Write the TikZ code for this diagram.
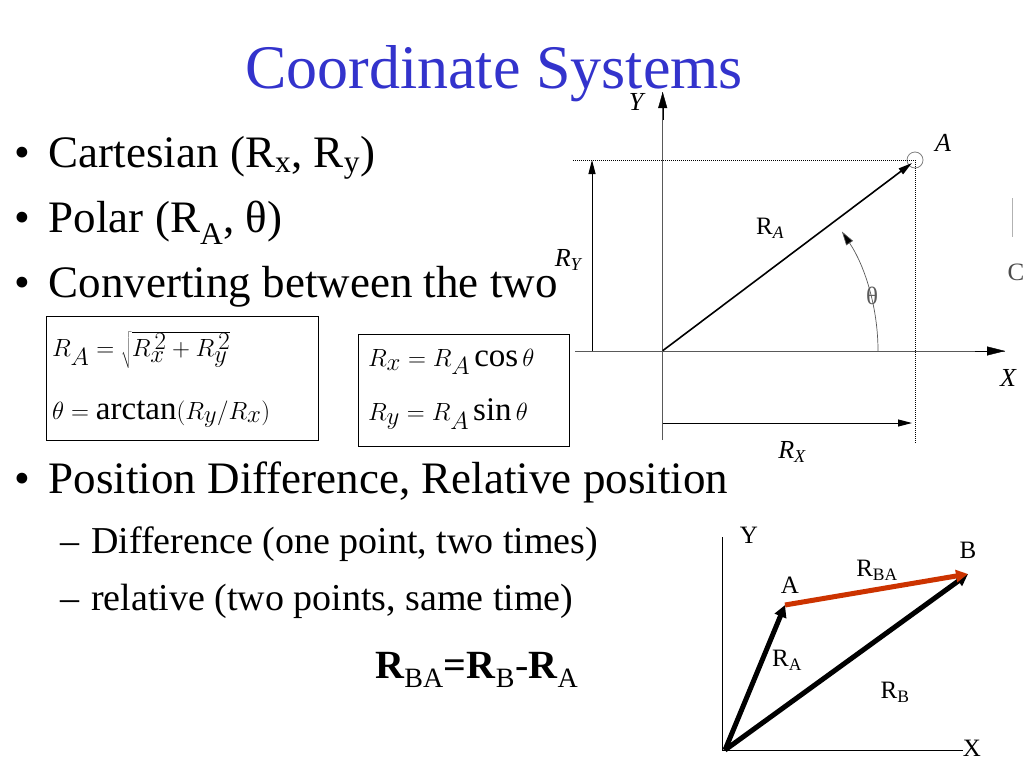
\documentclass[tikz,border=0pt]{standalone}
\usepackage{fontspec}
\setmainfont{Liberation Serif}
\usetikzlibrary{arrows.meta}
\definecolor{titleblue}{RGB}{51,51,204}
\definecolor{redarrow}{RGB}{204,51,0}
\begin{document}
\begin{tikzpicture}[x=1pt,y=-1pt,
  txt/.style={anchor=base west,inner sep=0pt,font=\fontsize{45}{48}\selectfont},
  sub/.style={anchor=base west,inner sep=0pt,font=\fontsize{38}{42}\selectfont},
  lbl/.style={inner sep=0pt,font=\fontsize{26}{28}\selectfont\itshape},
  lbl2/.style={inner sep=0pt,font=\fontsize{25}{27}\selectfont},
  fml/.style={anchor=west,inner sep=0pt,font=\fontsize{33}{35}\selectfont},
  axis/.style={gray!70!black,line width=0.8pt},
  thin/.style={line width=1pt,-{Triangle[length=14pt,width=7pt]}},
  fat/.style={line width=5pt,-{Triangle[length=12pt,width=12pt]}},
  dot/.style={densely dotted,line width=1pt}]
\useasboundingbox (0,0) rectangle (1024,768);
\node[anchor=base,inner sep=0pt,font=\fontsize{62}{66}\selectfont,text=titleblue] (title) at (494,88) {Coordinate Systems};
\node[txt] (b1) at (14,167) {•\hspace{19pt}Cartesian (R\textsubscript{x}, R\textsubscript{y})};
\node[txt] (b2) at (14,232) {•\hspace{19pt}Polar (R\textsubscript{A}, θ)};
\node[txt] (b3) at (14,297) {•\hspace{19pt}Converting between the two};
\node[txt] (b4) at (14,493) {•\hspace{19pt}Position Difference, Relative position};
\node[sub] (s1) at (60,553) {–\hspace{12pt}Difference (one point, two times)};
\node[sub] (s2) at (60,610) {–\hspace{12pt}relative (two points, same time)};
\node[anchor=base west,inner sep=0pt,font=\fontsize{40}{42}\selectfont] (eq) at (375,678) {\textbf{R}\textsubscript{BA}\textbf{=R}\textsubscript{B}-\textbf{R}\textsubscript{A}};
% formula boxes
\node[draw,line width=0.8pt,minimum width=272pt,minimum height=124pt,inner sep=0pt] (box1) at (182,378) {};
\node[fml] (f1) at (52,350) {$R_A=\sqrt{R_x^{\,2}+R_y^{\,2}}$};
\node[fml] (f2) at (52,414) {$\theta=\mathrm{arctan}\bigl(R_y\big/R_x\bigr)$};
\node[draw,line width=0.8pt,minimum width=211pt,minimum height=112pt,inner sep=0pt] (box2) at (463.5,390) {};
\node[fml] (f3) at (368,362) {$R_x=R_A\cos\theta$};
\node[fml] (f4) at (368,414) {$R_y=R_A\sin\theta$};
% upper diagram
\coordinate (O) at (662.7,350.7);
\coordinate (ytop) at (662.7,92);
\coordinate (ybot) at (662.7,440);
\coordinate (xl) at (575,351);
\coordinate (xr) at (1005,351);
\coordinate (Apt) at (915,160);
\draw[axis] (ybot) -- (ytop);
\draw[axis] (xl) -- (xr);
\draw[black,-{Triangle[length=16pt,width=9pt]}] (662.7,120) -- (ytop);
\draw[black,-{Triangle[length=18pt,width=9pt]}] (975,351) -- (xr);
\node[lbl] (ylab) at (636,102) {Y};
\node[lbl] (xlab) at (1008,378) {X};
\draw[gray,line width=0.8pt] (Apt) circle (8);
\node[lbl] (alab) at (943,143) {A};
\draw[dot] (573,160) -- (Apt) -- (915,443);
\draw[thin,line width=1.6pt] (O) -- (912,163);
\draw[thin] (592,351) -- (592,160);
\draw[thin] (662.7,423) -- (912,423);
\node[lbl] (rylab) at (568,260) {R\textsubscript{Y}};
\node[lbl] (rxlab) at (792,452) {R\textsubscript{X}};
\node[lbl2] (ralab) at (770,228) {R\textsubscript{\itshape A}};
\draw[gray!70!black,line width=0.7pt,-{Triangle[length=14pt,width=8pt,fill=black]}] (878,351) arc[start angle=0,end angle=-33.6,radius=216];
\node[lbl2,gray!70!black] (th) at (872,296) {θ};
\node[lbl2,gray!60!black] (clab) at (1016,272) {C};
\draw[gray!60] (1012,198) -- (1012,237);
% lower diagram
\coordinate (O2) at (725,750);
\coordinate (Ap) at (785,605);
\coordinate (Bp) at (968,574);
\draw[line width=1pt] (722,537) -- (722,750) -- (963,750);
\node[lbl2] (Y2) at (749,535) {Y};
\node[lbl2] (X2) at (972,748) {X};
\draw[fat] (O2) -- (Ap);
\draw[fat] (O2) -- (Bp);
\draw[fat,redarrow] (Ap) -- (Bp);
\node[lbl2] (A2) at (790,585) {A};
\node[lbl2] (B2) at (968,550) {B};
\node[lbl2] (rba) at (877,570) {R\textsubscript{BA}};
\node[lbl2] (ra2) at (787,660) {R\textsubscript{A}};
\node[lbl2] (rb2) at (895,692) {R\textsubscript{B}};
\end{tikzpicture}
\end{document}
